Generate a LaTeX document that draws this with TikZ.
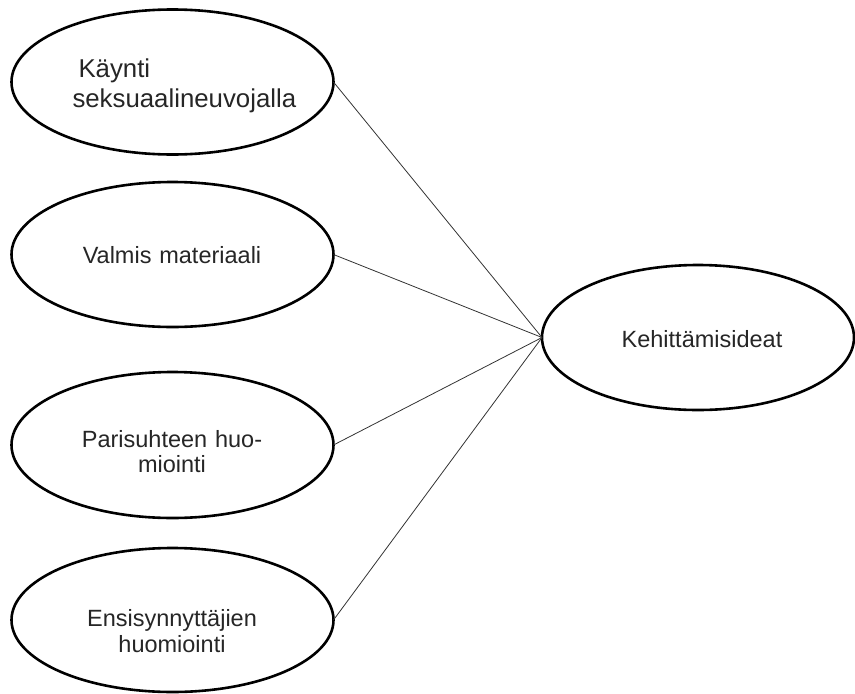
\documentclass[tikz,border=0pt]{standalone}
\usepackage{fontspec}
\setmainfont{Liberation Sans}
\usetikzlibrary{shapes.geometric}
\begin{document}
\begin{tikzpicture}[x=1pt,y=-1pt,
  oval/.style={draw=black, ellipse, line width=2.6pt, inner sep=0pt, outer sep=0pt, fill=white},
  txt/.style={inner sep=0pt, outer sep=0pt, text=black!85, text width=250pt, align=center, anchor=base},
  link/.style={draw=black!80, line width=0.8pt}
]
\useasboundingbox (0,0) rectangle (855,694);

% oval outlines
\node[oval, minimum width=322pt, minimum height=145pt] (kay) at (172.5,82) {};
\node[oval, minimum width=322pt, minimum height=145pt] (val) at (172.5,254.5) {};
\node[oval, minimum width=322pt, minimum height=146pt] (par) at (172.5,445) {};
\node[oval, minimum width=322pt, minimum height=144pt] (ens) at (172.5,620) {};
\node[oval, minimum width=312pt, minimum height=145pt] (keh) at (698,337.5) {};

% labels
\node[txt, text width=240pt, align=left, anchor=base west, font=\fontsize{25.8}{30}\selectfont]
  (kayt) at (72.5,77) {\hspace*{6pt}Käynti\\seksuaalineuvojalla};
\node[txt, font=\fontsize{23.5}{26}\selectfont] (valt) at (172,263) {Valmis materiaali};
\node[txt, font=\fontsize{23.5}{25}\selectfont] (part) at (172,447) {Parisuhteen huo-\\miointi};
\node[txt, font=\fontsize{23.5}{26}\selectfont] (enst) at (172,626) {Ensisynnyttäjien\\huomiointi};
\node[txt, font=\fontsize{23.5}{26}\selectfont] (keht) at (702,347) {Kehittämisideat};

% connectors
\draw[link] (kay.east) -- (keh.west);
\draw[link] (val.east) -- (keh.west);
\draw[link] (par.east) -- (keh.west);
\draw[link] (ens.east) -- (keh.west);
\end{tikzpicture}
\end{document}
